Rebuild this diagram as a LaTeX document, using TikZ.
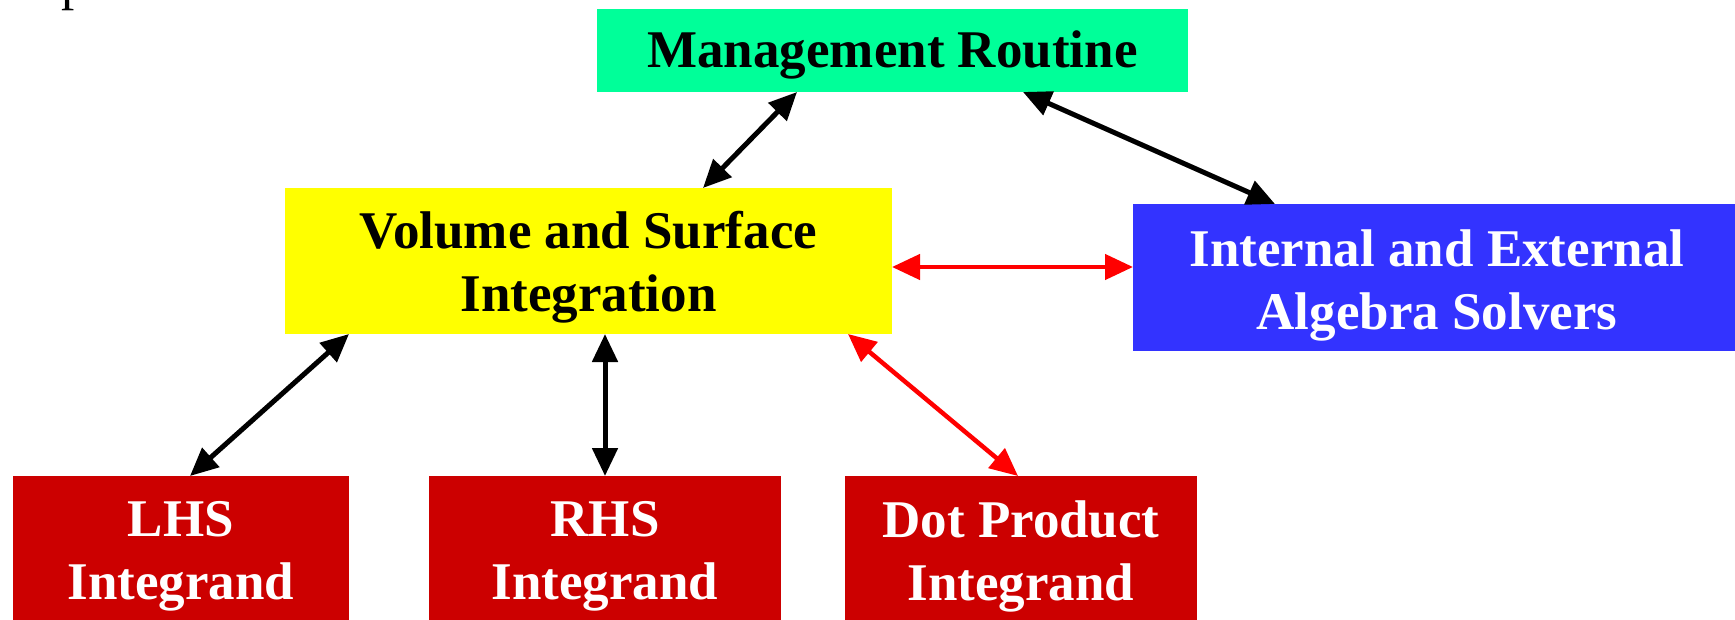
\documentclass[tikz,border=0pt]{standalone}
\usepackage{fontspec}
\setmainfont{Liberation Serif}
\usetikzlibrary{arrows.meta}
\definecolor{mgreen}{RGB}{0,255,153}
\definecolor{myellow}{RGB}{255,255,0}
\definecolor{mblue}{RGB}{51,51,255}
\definecolor{mred}{RGB}{204,0,0}
\definecolor{arred}{RGB}{255,0,0}
\begin{document}
\begin{tikzpicture}[x=1pt,y=-1pt,
  box/.style={inner sep=0pt,outer sep=0pt},
  txt/.style={inner sep=0pt,align=center,font=\fontsize{53}{63}\selectfont\bfseries},
  arr/.style={line width=5pt,{Triangle[length=28pt,width=25pt]}-{Triangle[length=28pt,width=25pt]}},
  rarr/.style={arr,draw=arred,fill=arred,line width=4.5pt}]
\useasboundingbox (0,0) rectangle (1735,620);
\node[box,fill=mgreen,minimum width=591pt,minimum height=83pt] (mgmt) at (892.5,50.5) {};
\node[box,fill=myellow,minimum width=607pt,minimum height=146pt] (vol) at (588.5,261) {};
\node[box,fill=mblue,minimum width=608pt,minimum height=147pt] (alg) at (1437,277.5) {};
\node[box,fill=mred,minimum width=336pt,minimum height=151pt] (lhs) at (181,551.5) {};
\node[box,fill=mred,minimum width=352pt,minimum height=151pt] (rhs) at (605,551.5) {};
\node[box,fill=mred,minimum width=352pt,minimum height=151pt] (dot) at (1021,551.5) {};
\node[txt] (mgmtT) at ([yshift=-4.5pt]mgmt.center) {Management Routine};
\node[txt] (volT) at ([yshift=-6.5pt]vol.center) {Volume and Surface\\Integration};
\node[txt,text=white] (algT) at ([yshift=-7.5pt]alg.center) {Internal and External\\Algebra Solvers};
\node[txt,text=white] (lhsT) at ([yshift=-4.5pt]lhs.center) {LHS\\Integrand};
\node[txt,text=white] (rhsT) at ([yshift=-4.5pt]rhs.center) {RHS\\Integrand};
\node[txt,text=white] (dotT) at ([yshift=-4.5pt]dot.center) {Dot Product\\Integrand};
\node[anchor=base west,inner sep=0pt,font=\fontsize{53}{63}\selectfont] (frag) at (61,0) {p};
\draw[arr] ([xshift=-95.5pt]mgmt.south) -- ([xshift=114.5pt]vol.north);
\draw[arr] ([xshift=130.5pt]mgmt.south) -- ([xshift=-162pt]alg.north);
\draw[rarr] ([yshift=-6pt]vol.east) -- ([yshift=-6pt]vol.east -| alg.west);
\draw[arr] ([xshift=-239.5pt]vol.south) -- ([xshift=9pt]lhs.north);
\draw[arr] (rhs.north |- vol.south) -- (rhs.north);
\draw[rarr] ([xshift=259.5pt]vol.south) -- ([xshift=-3pt]dot.north);
\end{tikzpicture}
\end{document}
